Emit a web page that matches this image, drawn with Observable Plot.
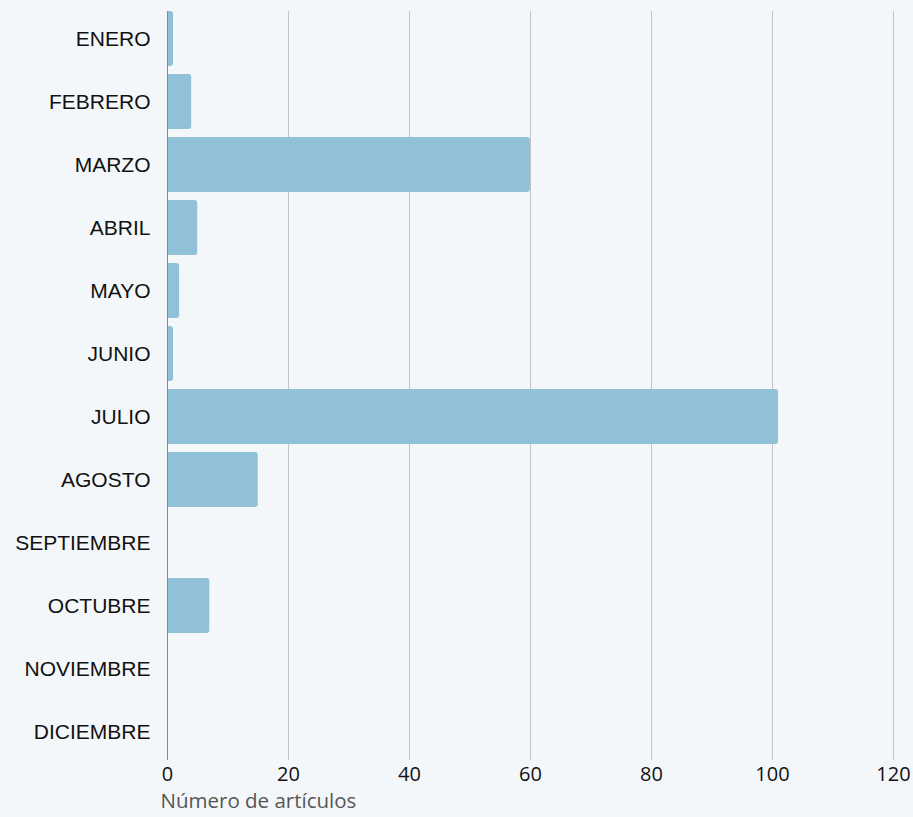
<!DOCTYPE html>
<html><head><meta charset="utf-8">
<script src="https://cdn.jsdelivr.net/npm/d3@7"></script>
<script src="https://cdn.jsdelivr.net/npm/@observablehq/plot@0.6"></script>
<style>
html,body{margin:0;padding:0;background:#f4f7fa;}
#chart svg{display:block;}
.ylab text{font-family:"Liberation Sans",Arial,sans-serif;}
</style></head>
<body><div id="chart"></div>
<script>
const months = ["ENERO","FEBRERO","MARZO","ABRIL","MAYO","JUNIO","JULIO","AGOSTO","SEPTIEMBRE","OCTUBRE","NOVIEMBRE","DICIEMBRE"];
const counts = [1,4,60,5,2,1,101,15,0,7,0,0];
const xTicks = [0,20,40,60,80,100,120];
const xLabel = "Número de artículos";

const data = months.map((m,i)=>({month:m, value:counts[i]}));
const barColor = "#91c1d9";

const chart = Plot.plot({
  width: 913,
  height: 817,
  marginLeft: 167,
  marginRight: 20,
  marginTop: 11,
  marginBottom: 57,
  style: {background:"#f4f7fa", fontFamily:"'Open Sans', sans-serif", fontSize:"20px", color:"#111"},
  x: {domain:[0,120], ticks: xTicks, tickSize:0, label:null},
  y: {domain: months, paddingInner:0.12, paddingOuter:0, round:true, label:null, tickSize:0},
  marks: [
    Plot.ruleX(xTicks.filter(t=>t>0), {stroke:"#c4c4c4", strokeWidth:1}),
    Plot.barX(data.filter(d=>d.value>0), {y:"month", x1:0, x2:d=>d.value/2, fill:barColor}),
    Plot.barX(data.filter(d=>d.value>0), {y:"month", x:"value", fill:barColor, rx:3}),
    Plot.ruleX([0], {stroke:"#888", strokeWidth:1}),
    Plot.axisY({tickSize:0, tickPadding:17, fontSize:21, fill:"#111", className:"ylab", label:null}),
    Plot.axisX({ticks:xTicks, tickSize:0, tickPadding:6, fontSize:20, fill:"#111", label:null}),
    Plot.text([xLabel], {frameAnchor:"bottom-left", dy:47, dx:-7, text:d=>d, fontSize:20.5, fill:"#555"})
  ]
});
document.getElementById("chart").appendChild(chart);
</script></body></html>
